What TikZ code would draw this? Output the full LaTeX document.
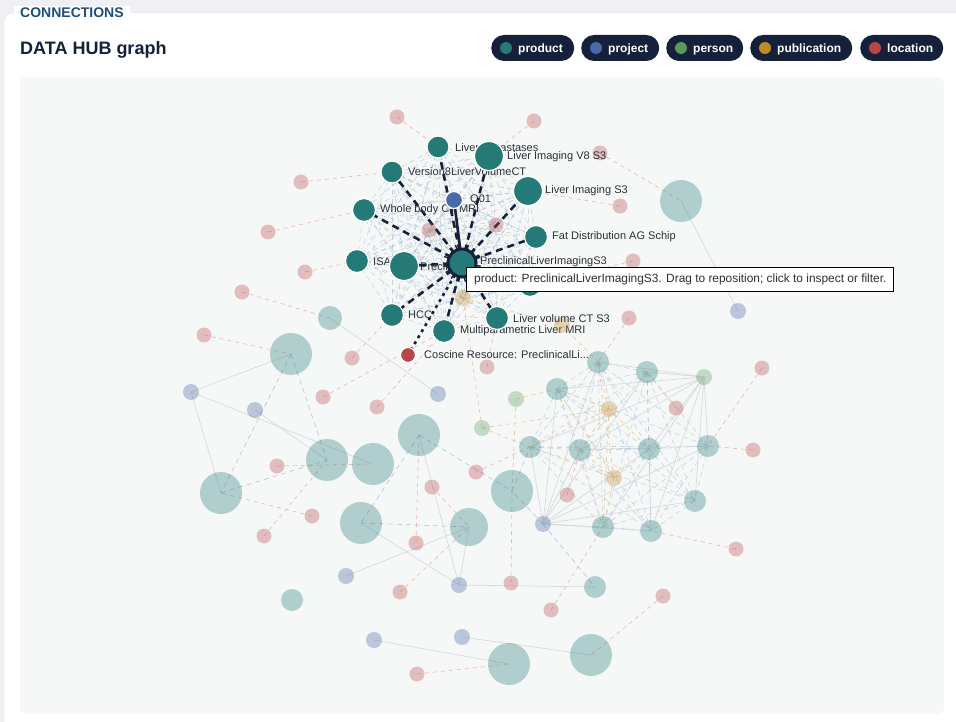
\documentclass[tikz,border=0pt]{standalone}
\usepackage{fontspec}
\setmainfont{Liberation Sans}
\usetikzlibrary{positioning}
\definecolor{prod}{HTML}{237A77}
\definecolor{proj}{HTML}{4A69A8}
\definecolor{pers}{HTML}{5A9A5E}
\definecolor{publ}{HTML}{C08A2A}
\definecolor{loc}{HTML}{B84646}
\definecolor{navy}{HTML}{15203A}
\definecolor{area}{HTML}{F6F8F8}
\definecolor{pagebg}{HTML}{EEF0F3}
\definecolor{cardline}{HTML}{DCE0E5}
\definecolor{conn}{HTML}{1D4F7C}
\definecolor{meshc}{HTML}{9FB5CB}
\definecolor{pinkc}{HTML}{EAB9BE}
\definecolor{grayc}{HTML}{D5DADD}
\definecolor{tanc}{HTML}{E6CC9E}
\definecolor{labc}{HTML}{2B2F36}
\pgfdeclarelayer{bg0}
\pgfdeclarelayer{edges}
\pgfdeclarelayer{labels}
\pgfdeclarelayer{hiedges}
\pgfdeclarelayer{top}
\pgfsetlayers{bg0,edges,hiedges,labels,main,top}
\tikzset{
  hprod/.style={circle,inner sep=0pt,fill=prod,draw=white,line width=1.2pt},
  hproj/.style={circle,inner sep=0pt,fill=proj,draw=white,line width=1.2pt},
  hloc/.style={circle,inner sep=0pt,fill=loc,draw=white,line width=1.2pt},
  fprod/.style={circle,inner sep=0pt,fill=prod,fill opacity=0.33},
  fproj/.style={circle,inner sep=0pt,fill=proj,fill opacity=0.35,minimum size=16pt},
  fpers/.style={circle,inner sep=0pt,fill=pers,fill opacity=0.33,minimum size=16pt},
  fpubl/.style={circle,inner sep=0pt,fill=publ,fill opacity=0.33,minimum size=16pt},
  floc/.style={circle,inner sep=0pt,fill=loc,fill opacity=0.33,minimum size=15pt},
  lab/.style={anchor=west,inner sep=0pt,text=labc,font=\fontsize{11}{13}\selectfont},
  meshe/.style={meshc,line width=0.6pt,dash pattern=on 5pt off 4pt,opacity=0.55},
  pinke/.style={pinkc,line width=0.7pt,dash pattern=on 4pt off 4pt},
  graye/.style={grayc,line width=0.7pt},
  tane/.style={tanc,line width=0.7pt,dash pattern=on 4pt off 4pt},
  hie/.style={navy,line width=2.6pt,dash pattern=on 7pt off 5pt},
  hidot/.style={navy,line width=2.6pt,dash pattern=on 3pt off 4pt},
  hisol/.style={navy,line width=2.6pt},
  pill/.style={fill=navy,rounded corners=13pt,minimum height=26pt,inner sep=0pt,anchor=west},
  pilltxt/.style={anchor=base west,inner sep=0pt,text=white,font=\fontsize{12}{14}\selectfont\bfseries},
  dot/.style={circle,inner sep=0pt,minimum size=12pt}
}
\begin{document}
\begin{tikzpicture}[x=1pt,y=-1pt]
\useasboundingbox (0,0) rectangle (956,722);
\begin{pgfonlayer}{bg0}
  \fill[pagebg] (0,0) rectangle (956,722);
  \draw[cardline,fill=white,rounded corners=8pt] (4,13) rectangle (980,745);
  \fill[area,rounded corners=6pt] (20,77) rectangle (944,714);
\end{pgfonlayer}
% header
\node[fill=white,inner xsep=6pt,inner ysep=2pt,anchor=west,text=conn,font=\fontsize{14}{16}\selectfont\bfseries] (conntitle) at (14,13) {CONNECTIONS};
\node[anchor=base west,inner sep=0pt,text=navy,font=\fontsize{18}{20}\selectfont\bfseries] (title) at (20,55) {DATA HUB graph};
\node[pill,minimum width=83pt] (pprod) at (491,48) {};
\node[dot,fill=prod] (dprod) at (506,48) {};
\node[pilltxt] (tprod) at (518,52.5) {product};
\node[pill,minimum width=78pt] (pproj) at (581,48) {};
\node[dot,fill=proj] (dproj) at (596,48) {};
\node[pilltxt] (tproj) at (608,52.5) {project};
\node[pill,minimum width=77pt] (ppers) at (666,48) {};
\node[dot,fill=pers] (dpers) at (681,48) {};
\node[pilltxt] (tpers) at (693,52.5) {person};
\node[pill,minimum width=102pt] (ppubl) at (750,48) {};
\node[dot,fill=publ] (dpubl) at (765,48) {};
\node[pilltxt] (tpubl) at (777,52.5) {publication};
\node[pill,minimum width=83pt] (ploc) at (860,48) {};
\node[dot,fill=loc] (dloc) at (875,48) {};
\node[pilltxt] (tloc) at (887,52.5) {location};

% faded locations
\foreach \nm/\px/\py in {L1/397/117,L2/534/121,L3/600/153,L4/301/182,L5/620/206,L6/496/225,L7/429/230,L8/268/232,L9/633/261,L10/305/272,L11/242/292,L12/629/318,L13/204/335,L14/352/358,L15/487/367,L16/323/397,L17/377/407,L18/762/368,L19/676/408,L20/753/450,L21/432/487,L22/476/472,L23/277/466,L24/567/495,L25/312/516,L26/264/536,L27/416/543,L28/736/549,L29/400/592,L30/511/583,L31/551/610,L32/663/596,L33/417/674}
  {\node[floc] (\nm) at (\px,\py) {};}
% faded projects
\foreach \nm/\px/\py in {P1/191/392,P2/255/410,P3/438/394,P4/738/311,P5/543/524,P6/346/576,P7/459/585,P8/374/640,P9/462/637}
  {\node[fproj] (\nm) at (\px,\py) {};}
% faded persons
\foreach \nm/\px/\py in {S1/704/377,S2/516/399,S3/482/428}
  {\node[fpers] (\nm) at (\px,\py) {};}
% faded publications
\foreach \nm/\px/\py in {B1/463/298,B2/562/325,B3/609/409,B4/614/478}
  {\node[fpubl] (\nm) at (\px,\py) {};}
% faded products (big)
\foreach \nm/\px/\py/\d in {G1/681/201/42,G2/291/354/42,G3/221/493/42,G4/327/460/42,G5/373/464/42,G6/419/435/42,G7/361/523/42,G8/469/527/38,G9/512/491/42,G10/509/664/42,G11/591/655/42}
  {\node[fprod,minimum size=\d pt] (\nm) at (\px,\py) {};}
% faded products (medium)
\foreach \nm/\px/\py/\d in {M1/330/318/24,M2/598/362/22,M3/647/372/22,M4/557/389/22,M5/530/447/22,M6/580/450/22,M7/649/449/22,M8/708/446/22,M9/695/501/22,M10/603/527/22,M11/651/531/22,M12/292/600/22,M13/595/587/22}
  {\node[fprod,minimum size=\d pt] (\nm) at (\px,\py) {};}

% highlighted nodes
\node[hprod,minimum size=22pt] (lm) at (438,147) {};
\node[hprod,minimum size=29pt] (v8) at (489,156) {};
\node[hprod,minimum size=22pt] (v8c) at (392,172) {};
\node[hprod,minimum size=29pt] (lis3) at (528,191) {};
\node[hproj,minimum size=17pt] (q01) at (454,200) {};
\node[hprod,minimum size=23pt] (wb) at (364,210) {};
\node[hprod,minimum size=23pt] (fat) at (536,237) {};
\node[hprod,minimum size=23pt] (isa) at (357,261) {};
\node[hprod,minimum size=29pt] (pre) at (404,266) {};
\node[hprod,minimum size=23pt] (hid) at (530,285) {};
\node[hprod,minimum size=23pt] (hcc) at (392,315) {};
\node[hprod,minimum size=23pt] (lv) at (497,318) {};
\node[hprod,minimum size=23pt] (mp) at (444,331) {};
\node[hloc,minimum size=15pt] (cos) at (408,355) {};
\node[circle,inner sep=0pt,fill=prod,draw=navy,line width=3pt,minimum size=28pt] (c) at (462,263) {};

\begin{pgfonlayer}{labels}
\node[lab] (tlm) at (455,148) {Liver Metastases};
\node[lab] (tv8c) at (408,172) {Version8LiverVolumeCT};
\node[lab] (tq01) at (470,200) {Q01};
\node[lab] (twb) at (380,210) {Whole body CT MRI};
\node[lab] (tisa) at (373,262) {ISA};
\node[lab] (tpre) at (420,267) {Preclinical};
\node[lab] (thcc) at (408,315) {HCC};
\node[lab] (tmp) at (460,331) {Multiparametric Liver MRI};
\end{pgfonlayer}
\node[lab] (tv8) at (507,157) {Liver Imaging V8 S3};
\node[lab] (tlis3) at (545,191) {Liver Imaging S3};
\node[lab] (tfat) at (552,237) {Fat Distribution AG Schip};
\node[lab] (tc) at (480,262) {PreclinicalLiverImagingS3};
\node[lab] (tlv) at (513,319) {Liver volume CT S3};
\node[lab] (tcos) at (424,355) {Coscine Resource: PreclinicalLi...};

% faint edges
\begin{pgfonlayer}{edges}
  \foreach \i [count=\n] in {c,lm,v8,v8c,lis3,q01,wb,fat,isa,pre,hid,hcc,lv,mp,L6,L7,B1}{
    \foreach \j [count=\m] in {c,lm,v8,v8c,lis3,q01,wb,fat,isa,pre,hid,hcc,lv,mp,L6,L7,B1}{
      \ifnum\m>\n \draw[meshe] (\i.center) -- (\j.center); \fi
    }
  }
  \foreach \i [count=\n] in {M2,M3,M4,M5,M6,M7,M8,M9,M10,M11}{
    \foreach \j [count=\m] in {M2,M3,M4,M5,M6,M7,M8,M9,M10,M11}{
      \ifnum\m>\n \draw[meshe] (\i.center) -- (\j.center); \fi
    }
  }
  \foreach \j in {M2,M3,M4,M5,M6,M7,M8,M9,M10,M11}{
    \draw[graye] (S1.center) -- (\j.center);
    \draw[graye] (P5.center) -- (\j.center);
  }
  \foreach \j in {M2,M4,M5,M6,M7,M10}{
    \draw[tane] (B3.center) -- (\j.center);
    \draw[tane] (B4.center) -- (\j.center);
  }
  \foreach \a/\b in {S3/M5,S3/B3,S2/M4,S2/G9,B1/B2,B2/M2,B1/S3}
    {\draw[tane] (\a.center) -- (\b.center);}
  \foreach \a/\b in {L1/lm,L2/v8,L3/G1,L5/lis3,L4/v8c,L8/wb,L10/isa,L11/M1,L13/G2,L9/hid,L12/M2,L14/hcc,L16/mp,L17/mp,L15/lv,L18/M8,L20/M8,L28/M11,L19/M3,L22/M5,L24/M6,L25/G3,L26/G4,L27/G6,L29/G8,L30/G9,L31/M10,L32/G11,L33/G10,L23/G5,L21/G8}
    {\draw[pinke] (\a.center) -- (\b.center);}
  \foreach \a/\b in {G1/P4,P1/G2,P1/G3,P1/G5,M1/P3,P7/G6,G7/P7,G8/P6,P7/M13,P8/G10,P9/G11,P2/G4,G8/P7}
    {\draw[graye] (\a.center) -- (\b.center);}
  \foreach \a/\b in {G2/G3,G2/G4,G3/G4,G6/G7,G6/G9,G7/G8,G9/M5,P5/M13,P5/G9}
    {\draw[meshe,opacity=0.8] (\a.center) -- (\b.center);}
\end{pgfonlayer}

% highlighted edges
\begin{pgfonlayer}{hiedges}
  \foreach \t in {lm,v8,v8c,lis3,wb,fat,pre,hid,hcc,lv,mp}
    {\draw[hie] (c.center) -- (\t.center);}
  \draw[hisol] (c.center) -- (q01.center);
  \draw[hidot] (c.center) -- (cos.center);
\end{pgfonlayer}

% tooltip
\begin{pgfonlayer}{top}
  \foreach \a in {10,35,60,80,100,125,150,170,200,230,250,290,310,335}
    {\draw[navy,line width=1.4pt] (c.center) ++(\a:15) -- ++(\a:4);}
  \node[draw=black,fill=white,line width=0.8pt,anchor=north west,minimum width=427pt,minimum height=24pt,inner sep=0pt] (tipbox) at (466,267) {};
  \node[anchor=west,inner sep=0pt,text=labc,font=\fontsize{11.9}{13}\selectfont] (tiptext) at (474,279) {product: PreclinicalLiverImagingS3. Drag to reposition; click to inspect or filter.};
\end{pgfonlayer}
\end{tikzpicture}
\end{document}
